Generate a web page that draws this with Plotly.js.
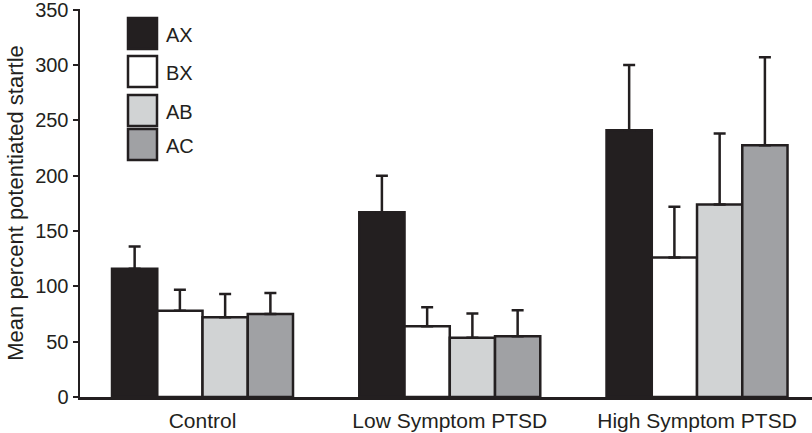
<!DOCTYPE html>
<html>
<head>
<meta charset="utf-8">
<script src="https://cdn.plot.ly/plotly-3.0.1.min.js"></script>
<style>html,body{margin:0;padding:0;background:#fff;}#chart{width:812px;height:433px;}</style>
</head>
<body>
<div id="chart"></div>
<script>
const categories = ["Control", "Low Symptom PTSD", "High Symptom PTSD"];
const seriesNames = ["AX", "BX", "AB", "AC"];
const AX = [116, 167, 241];
const BX = [78, 64, 126];
const AB = [72, 53.5, 174];
const AC = [75, 55, 227.5];
const AX_err = [20, 33, 59];
const BX_err = [19, 17, 46];
const AB_err = [21, 22, 64];
const AC_err = [19, 23.5, 79.5];
const seriesColors = ["#231f20", "#ffffff", "#d1d3d4", "#a0a1a4"];
const yTicks = [0, 50, 100, 150, 200, 250, 300, 350];

const ink = "#231f20";
const fam = "Liberation Sans, Arial, sans-serif";
const values = [AX, BX, AB, AC];
const errs = [AX_err, BX_err, AB_err, AC_err];
const idx = categories.map((_, i) => i);

const traces = seriesNames.map((name, k) => ({
  type: "bar",
  name: name,
  x: idx,
  y: values[k],
  marker: {color: seriesColors[k], line: {color: ink, width: 2.5}},
  error_y: {type: "data", symmetric: false, array: errs[k], arrayminus: errs[k].map(() => 0),
            color: ink, thickness: 2.5, width: 6},
  showlegend: false,
  hoverinfo: "skip"
}));

// Legend drawn as boxes + labels in paper coordinates
const shapes = [];
const annotations = [];
const legTop = [18, 56, 95, 129];
const L = 80, W = 732, T = 9, H = 388;
function px2x(p) { return (p - L) / W; }
function py2y(p) { return (T + H - p) / H; }
seriesNames.forEach((name, k) => {
  shapes.push({type: "rect", xref: "paper", yref: "paper",
    x0: px2x(128), x1: px2x(157), y0: py2y(legTop[k] + 31), y1: py2y(legTop[k]),
    fillcolor: seriesColors[k], line: {color: ink, width: 2.5}});
  annotations.push({xref: "paper", yref: "paper", x: px2x(164), y: py2y(legTop[k] + 17),
    xanchor: "left", yanchor: "middle", showarrow: false, text: name,
    font: {family: fam, size: 20, color: ink}});
});

const layout = {
  width: 812, height: 433,
  margin: {l: 80, r: 0, t: 9, b: 36, pad: 0},
  paper_bgcolor: "#ffffff", plot_bgcolor: "#ffffff",
  barmode: "group", bargap: 0.268, bargroupgap: 0,
  font: {family: fam, color: ink},
  xaxis: {
    type: "linear", range: [-0.4955, 2.465],
    tickvals: idx, ticktext: categories, ticks: "",
    showline: true, linecolor: ink, linewidth: 2.5,
    showgrid: false, zeroline: false, ticklabelstandoff: 3,
    tickfont: {family: fam, size: 21, color: ink}
  },
  yaxis: {
    range: [0, 350.6], tickvals: yTicks, ticklabeloverflow: "allow",
    ticks: "outside", ticklen: 5, tickwidth: 2, tickcolor: ink,
    showline: true, linecolor: ink, linewidth: 2.5,
    showgrid: false, zeroline: false,
    tickfont: {family: fam, size: 20, color: ink},
    title: {text: "Mean percent potentiated startle", font: {family: fam, size: 22, color: ink}, standoff: 6}
  },
  shapes: shapes,
  annotations: annotations
};

Plotly.newPlot("chart", traces, layout, {staticPlot: true, displayModeBar: false});
</script>
</body>
</html>
